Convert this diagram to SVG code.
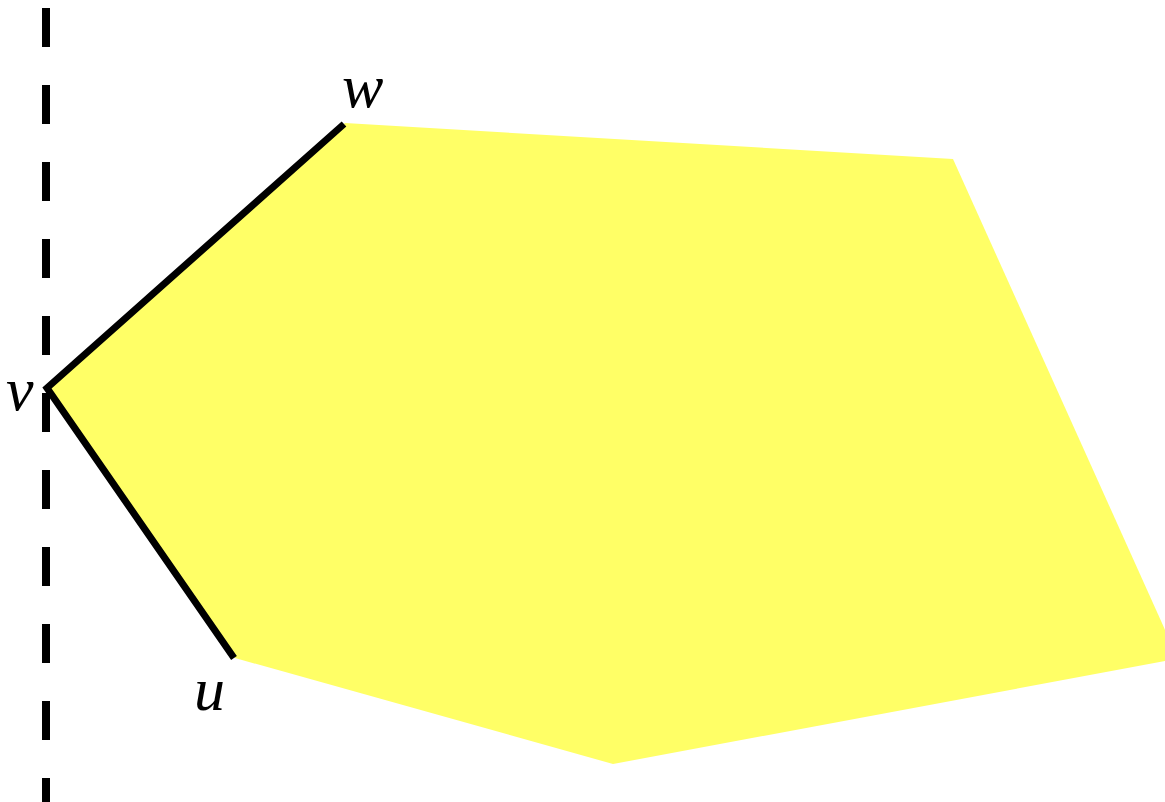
<svg xmlns="http://www.w3.org/2000/svg" width="1165" height="802" viewBox="0 0 1165 802">
<style>
.lbl{font-family:"Liberation Serif","Times New Roman",serif;font-style:italic;font-weight:normal;font-size:62px;fill:#000}
.edge{stroke:#000;stroke-width:7;fill:none}
</style>
<rect width="1165" height="802" fill="#fff"/>
<g id="region">
<polygon points="345,123 953,159 1178,658.5 613,764 235,658 47,388" fill="#ffff66"/>
</g>
<g id="axis">
<line x1="46" y1="8" x2="46" y2="802" stroke="#000" stroke-width="8" stroke-dasharray="39 38"/>
</g>
<g id="connectors">
<polyline class="edge" points="344,124 47,388 234,658"/>
</g>
<g id="node-w"><text class="lbl" x="342" y="107">w</text></g>
<g id="node-v"><text class="lbl" x="6" y="410">v</text></g>
<g id="node-u"><text class="lbl" x="194" y="710">u</text></g>
</svg>
